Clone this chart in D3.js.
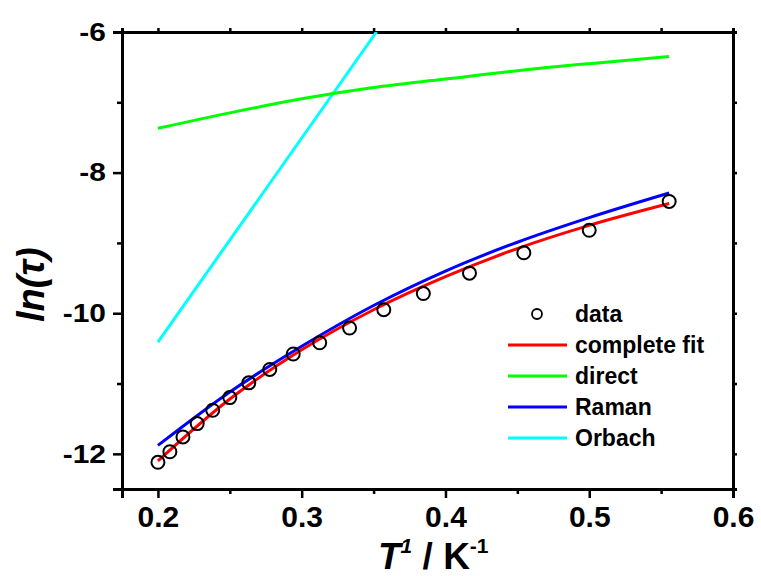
<!DOCTYPE html>
<html>
<head>
<meta charset="utf-8">
<script src="https://cdn.jsdelivr.net/npm/d3@7"></script>
<style>
  body { margin: 0; background: #fff; }
  svg { display: block; font-family: Arial, "Liberation Sans", sans-serif; }
</style>
</head>
<body>
<svg width="761" height="576"></svg>
<script>
// measured points
var invT = [0.2, 0.2083, 0.2174, 0.2273, 0.2381, 0.25, 0.2632, 0.2778, 0.2941,
            0.3125, 0.3333, 0.3571, 0.3846, 0.4167, 0.4545, 0.5, 0.5556]
var lnTau = [-12.12, -11.97, -11.76, -11.57, -11.38, -11.20, -10.99, -10.80, -10.58,
             -10.42, -10.21, -9.95, -9.72, -9.43, -9.14, -8.82, -8.41]

// fitted curves, read at these x values
var fitX = [0.2, 0.25, 0.3, 0.35, 0.4, 0.45, 0.5, 0.5556]
var completeFit = [-12.10, -11.22, -10.52, -9.95, -9.48, -9.08, -8.75, -8.44]
var direct = [-7.37, -7.15, -6.95, -6.79, -6.67, -6.55, -6.45, -6.35]
var raman = [-11.88, -11.12, -10.47, -9.89, -9.40, -8.99, -8.64, -8.29]
var orbachX = [0.2, 0.352]
var orbach = [-10.41, -6.0]

var xTicks = [0.2, 0.3, 0.4, 0.5, 0.6]
var xMinor = [0.25, 0.35, 0.45, 0.55]
var yTicks = [-12, -10, -8, -6]
var yMinor = [-11, -9, -7]

var legendNames = ["data", "complete fit", "direct", "Raman", "Orbach"]
var legendColors = ["#000", "#ff0000", "#00ff00", "#0000ff", "#00ffff"]

main()

function main() {
  var LEFT = 122, TOP = 32, W = 611, H = 457

  var svg = d3.select("svg")
  var x = d3.scaleLinear().domain([0.175, 0.6]).range([0, W])
  var y = d3.scaleLinear().domain([-12.5, -6]).range([H, 0])

  var g = svg.append("g").attr("transform", "translate(" + LEFT + "," + TOP + ")")

  g.append("clipPath").attr("id", "plot-clip")
    .append("rect").attr("width", W).attr("height", H)

  // minor ticks first, then major with labels
  g.append("g").attr("class", "axis")
    .attr("transform", "translate(0," + H + ")")
    .call(d3.axisBottom(x).tickValues(xMinor).tickSize(5).tickFormat(""))
  var xa = g.append("g").attr("class", "axis")
    .attr("transform", "translate(0," + H + ")")
    .call(d3.axisBottom(x).tickValues(xTicks).tickSize(9).tickPadding(8).tickFormat(d3.format(".1f")))
  xa.selectAll("text").attr("font-size", 30).attr("font-weight", "bold")

  g.append("g").attr("class", "axis")
    .call(d3.axisLeft(y).tickValues(yMinor).tickSize(5).tickFormat(""))
  var ya = g.append("g").attr("class", "axis")
    .call(d3.axisLeft(y).tickValues(yTicks).tickSize(9).tickPadding(5)
      .tickFormat(function(d) { return String(d) }))   // plain hyphen, as in the original
  ya.selectAll("text").attr("font-size", 26).attr("font-weight", "bold")
    .attr("transform", "scale(1.15,1)")

  g.append("g").attr("class", "axis")
    .call(d3.axisTop(x).tickValues(xTicks.concat(xMinor)).tickSize(4).tickFormat(""))
  g.append("g").attr("class", "axis")
    .attr("transform", "translate(" + W + ",0)")
    .call(d3.axisRight(y).ticks(7).tickSize(4).tickFormat(""))

  g.selectAll(".axis path.domain").attr("stroke", "#000").attr("stroke-width", 3)
  g.selectAll(".axis .tick line").attr("stroke", "#000").attr("stroke-width", 2.5)
  g.selectAll(".axis text").attr("fill", "#000").attr("font-family", "Arial, 'Liberation Sans', sans-serif")

  var curve = d3.line().curve(d3.curveMonotoneX)
    .x(function(d) { return x(d[0]) })
    .y(function(d) { return y(d[1]) })

  var plot = g.append("g").attr("clip-path", "url(#plot-clip)")

  var series = [
    { xs: orbachX, ys: orbach, color: legendColors[4] },
    { xs: fitX, ys: direct, color: legendColors[2] },
    { xs: fitX, ys: raman, color: legendColors[3] },
    { xs: fitX, ys: completeFit, color: legendColors[1] }
  ]
  series.forEach(function(s) {
    plot.append("path")
      .attr("d", curve(d3.zip(s.xs, s.ys)))
      .attr("fill", "none")
      .attr("stroke", s.color)
      .attr("stroke-width", 3)
  })

  plot.selectAll("circle.pt")
    .data(d3.zip(invT, lnTau))
    .enter().append("circle")
      .attr("class", "pt")
      .attr("cx", function(d) { return x(d[0]) })
      .attr("cy", function(d) { return y(d[1]) })
      .attr("r", 6.5)
      .attr("fill", "none")
      .attr("stroke", "#000")
      .attr("stroke-width", 2)

  // legend
  var LEG_X = 508, LEG_Y = 314, LEG_STEP = 31
  var leg = svg.append("g")
  legendNames.forEach(function(name, i) {
    var ly = LEG_Y + i * LEG_STEP
    if (i == 0) {
      leg.append("circle")
        .attr("cx", LEG_X + 29).attr("cy", ly).attr("r", 5)
        .attr("fill", "none").attr("stroke", "#000").attr("stroke-width", 1.8)
    } else {
      leg.append("line")
        .attr("x1", LEG_X).attr("x2", LEG_X + 59)
        .attr("y1", ly).attr("y2", ly)
        .attr("stroke", legendColors[i]).attr("stroke-width", 3)
    }
    leg.append("text")
      .attr("x", LEG_X + 67).attr("y", ly)
      .attr("dy", "0.36em")
      .attr("font-size", 23)
      .attr("font-weight", "bold")
      .text(name)
  })

  // axis titles
  var xt = svg.append("text")
    .attr("x", 378).attr("y", 569)
    .attr("font-size", 37).attr("font-weight", "bold")
  xt.append("tspan").attr("font-style", "italic").text("T")
  xt.append("tspan").attr("font-style", "italic").attr("font-size", 21).attr("dy", -16).text("1")
  xt.append("tspan").attr("dy", 16).text(" / K")
  xt.append("tspan").attr("font-size", 21).attr("dy", -16).text("-1")

  var yt = svg.append("text")
    .attr("transform", "translate(44,322) rotate(-90)")
    .attr("font-size", 38).attr("font-weight", "bold").attr("font-style", "italic")
  yt.append("tspan").text("ln(")
  yt.append("tspan").text("τ")
  yt.append("tspan").text(")")
}
</script>
</body>
</html>
